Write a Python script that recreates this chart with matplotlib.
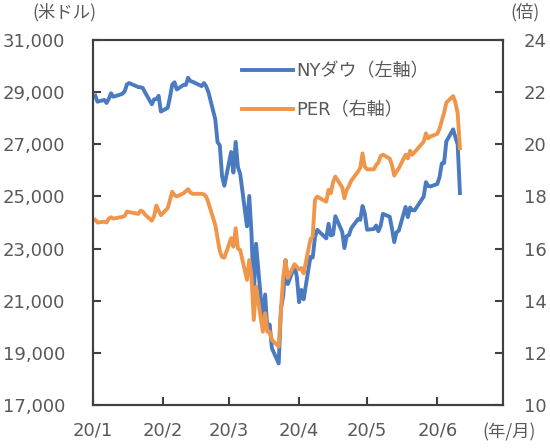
import datetime as dt
import matplotlib.pyplot as plt
import matplotlib.dates as mdates

plt.rcParams['font.family'] = ['DejaVu Sans', 'Noto Sans CJK JP']

# trading days per month (2020)
trade_days = {
    1: [2, 3, 6, 7, 8, 9, 10, 13, 14, 15, 16, 17, 21, 22, 23, 24, 27, 28, 29, 30, 31],
    2: [3, 4, 5, 6, 7, 10, 11, 12, 13, 14, 18, 19, 20, 21, 24, 25, 26, 27, 28],
    3: [2, 3, 4, 5, 6, 9, 10, 11, 12, 13, 16, 17, 18, 19, 20, 23, 24, 25, 26, 27, 30, 31],
    4: [1, 2, 3, 6, 7, 8, 9, 13, 14, 15, 16, 17, 20, 21, 22, 23, 24, 27, 28, 29, 30],
    5: [1, 4, 5, 6, 7, 8, 11, 12, 13, 14, 15, 18, 19, 20, 21, 22, 26, 27, 28, 29],
    6: [1, 2, 3, 4, 5, 8, 9, 10, 11],
}

# NY Dow close (USD)
dow = [
    28868, 28634, 28703, 28584, 28745, 28956, 28824, 28907, 28940, 29030, 29298,
    29348, 29196, 29186, 29160, 28990, 28536, 28723, 28734, 28860, 28256,
    28400, 28808, 29291, 29380, 29103, 29277, 29276, 29551, 29424, 29398,
    29232, 29348, 29220, 28992, 27961, 27081, 26957, 25766, 25409,
    26703, 25917, 27091, 26121, 25865, 23851, 25018, 23553, 21200, 23186, 20189,
    21237, 19899, 20087, 19174, 18592, 20704, 21200, 22552, 21637, 22327, 21917,
    20944, 21413, 21053, 22680, 22654, 23434, 23719, 23390, 23950, 23505, 23538,
    24242, 23650, 23019, 23475, 23515, 23775, 24134, 24101, 24634, 24346,
    23724, 23750, 23883, 23664, 23876, 24331, 24222, 23765, 23248, 23625, 23685,
    24597, 24207, 24576, 24474, 24465, 24995, 25548, 25401, 25383,
    25475, 25742, 26270, 26282, 27111, 27572, 27272, 26990, 25128,
]

# PER (times)
per = [
    17.10, 17.00, 17.03, 17.00, 17.15, 17.20, 17.15, 17.20, 17.22, 17.25, 17.42,
    17.40, 17.33, 17.45, 17.42, 17.30, 17.07, 17.25, 17.65, 17.45, 17.28,
    17.55, 17.86, 18.18, 18.05, 18.00, 18.12, 18.20, 18.28, 18.15, 18.10,
    18.10, 18.08, 17.99, 17.75, 16.90, 16.40, 15.90, 15.68, 15.65,
    16.40, 16.07, 16.78, 16.00, 15.94, 14.80, 15.56, 14.92, 13.26, 14.54, 12.81,
    13.52, 12.81, 12.81, 12.50, 12.24, 13.64, 14.92, 15.56, 14.87, 15.40, 15.30,
    15.20, 15.25, 15.05, 16.35, 16.46, 17.86, 17.99, 17.80, 18.25, 18.12, 18.55,
    18.76, 18.35, 17.93, 18.25, 18.40, 18.60, 18.95, 19.10, 19.65, 19.14,
    19.04, 19.04, 19.20, 19.30, 19.55, 19.60, 19.45, 19.20, 18.80, 18.95, 19.08,
    19.60, 19.46, 19.75, 19.60, 19.70, 20.10, 20.42, 20.23, 20.30,
    20.40, 20.60, 20.90, 21.20, 21.60, 21.85, 21.60, 21.20, 19.85,
]

month_labels = ['20/1', '20/2', '20/3', '20/4', '20/5', '20/6']

dates = [dt.date(2020, m, d) for m in trade_days for d in trade_days[m]]
month_starts = [dt.date(2020, m, 1) for m in range(1, 7)]

blue = '#4A7BC0'
orange = '#F0964A'
spine_c = '#404040'
text_c = '#595959'

fig = plt.figure(figsize=(5.5, 4.48), dpi=100)
ax = fig.add_axes([0.169, 0.096, 0.7455, 0.8147])
ax2 = ax.twinx()

l1, = ax.plot(dates, dow, color=blue, lw=2.8, label='NYダウ（左軸）')
l2, = ax2.plot(dates, per, color=orange, lw=2.8, label='PER（右軸）')

ax.set_xlim(dt.date(2020, 1, 1), dt.date(2020, 6, 30))
ax.set_ylim(17000, 31000)
ax.set_yticks(range(17000, 31001, 2000))
ax.set_yticklabels([f'{v:,}' for v in range(17000, 31001, 2000)])
ax2.set_ylim(10, 24)
ax2.set_yticks(range(10, 25, 2))

ax.set_xticks([mdates.date2num(d) for d in month_starts])
ax.set_xticklabels(month_labels)

for a in (ax, ax2):
    for s in a.spines.values():
        s.set_color(spine_c)
        s.set_linewidth(1.5)
    a.tick_params(direction='in', length=6, width=1.5, color=spine_c,
                  labelcolor=text_c, labelsize=13)
ax.tick_params(axis='y', pad=20)
ax.tick_params(axis='x', pad=12)
ax2.tick_params(axis='y', pad=15)

fig.text(64 / 550, 1 - 12 / 448, '(米ドル)', ha='center', va='center',
         fontsize=12.5, color=text_c, family=['Noto Sans CJK JP'])
fig.text(525 / 550, 1 - 12 / 448, '(倍)', ha='center', va='center',
         fontsize=12.5, color=text_c, family=['Noto Sans CJK JP'])
fig.text(509 / 550, 1 - 432 / 448, '(年/月)', ha='center', va='center',
         fontsize=12.5, color=text_c, family=['Noto Sans CJK JP'])

leg = ax2.legend(handles=[l1, l2], loc='upper left',
                 bbox_to_anchor=(242 / 550, 1 - 62 / 448),
                 bbox_transform=fig.transFigure, frameon=False,
                 fontsize=13, handlelength=2.8, handletextpad=0.2,
                 labelspacing=1.2, borderpad=0, borderaxespad=0)
for t in leg.get_texts():
    t.set_color(text_c)

fig.savefig('out.png', dpi=100)
